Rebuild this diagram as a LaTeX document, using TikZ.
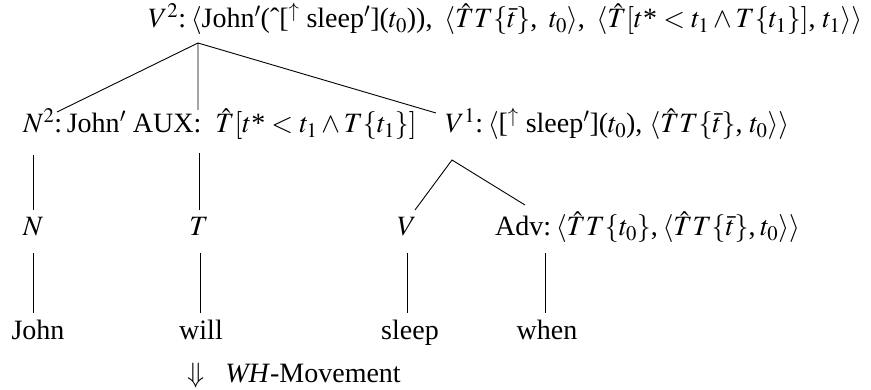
\documentclass[tikz,border=0pt]{standalone}
\usepackage{mathptmx}
\usepackage{fontspec}
\setmainfont{Liberation Serif}
\newcommand{\tst}{t\mbox{*}}
\begin{document}
\begin{tikzpicture}[x=1pt,y=-1pt,
  lab/.style={inner sep=0pt,anchor=base west,font=\fontsize{28}{32}\selectfont},
  labc/.style={inner sep=0pt,anchor=base,font=\fontsize{28}{32}\selectfont},
  branch/.style={line width=0.9pt}]
\useasboundingbox (0,0) rectangle (871,390);
% row 1
\node[lab] (v2) at (148,28) {$V^2$:\,$\langle$John$'$(ˆ[$^{\uparrow}$ sleep$'$]($t_0$)), \,$\langle\hat{T}T\{\bar{t}\}$, \,$t_0\rangle$, \,$\langle\hat{T}[\tst<t_1\wedge T\{t_1\}]$, $t_1\rangle\rangle$};
% row 2
\node[lab] (n2) at (23,133) {$N^2$:\,John$'$ AUX:\ \ $\hat{T}[\tst<t_1\wedge T\{t_1\}]$};
\node[lab] (v1) at (445,133) {$V^1$:\,$\langle$[$^{\uparrow}$ sleep$'$]($t_0$), $\langle\hat{T}T\{\bar{t}\}$, $t_0\rangle\rangle$};
% row 3
\node[labc] (nN) at (33,236) {$N$};
\node[labc] (nT) at (199,236) {$T$};
\node[labc] (nV) at (407,236) {$V$};
\node[lab] (adv) at (495,236) {Adv:\,$\langle\hat{T}T\{t_0\}$,\,$\langle\hat{T}T\{\bar{t}\}$,\,$t_0\rangle\rangle$};
% row 4
\node[labc] (john) at (38,340) {John};
\node[labc] (will) at (201,340) {will};
\node[labc] (sleep) at (410,340) {sleep};
\node[labc] (when) at (547,340) {when};
% bottom
\node[lab] (wh) at (187,382) {$\Downarrow$\ \ \ \textit{WH}-Movement};
% junctions
\coordinate (j0) at (198,43);
\coordinate (j0a) at (57,112);
\coordinate (j0b) at (198,110);
\coordinate (j0c) at (436,113);
\coordinate (nNt) at (33,155); \coordinate (nNb) at (33,210);
\coordinate (nTt) at (199,153); \coordinate (nTb) at (199,210);
\coordinate (j1) at (452,160);
\coordinate (j1a) at (415,210);
\coordinate (j1b) at (525,205);
\coordinate (l1t) at (33,253); \coordinate (l1b) at (33,313);
\coordinate (l2t) at (200,253); \coordinate (l2b) at (200,313);
\coordinate (l3t) at (407,253); \coordinate (l3b) at (407,313);
\coordinate (l4t) at (545,253); \coordinate (l4b) at (545,313);
\draw[branch] (j0a) -- (j0) -- (j0c) (j0) -- (j0b);
\draw[branch] (nNt) -- (nNb) (nTt) -- (nTb);
\draw[branch] (j1a) -- (j1) -- (j1b);
\draw[branch] (l1t) -- (l1b) (l2t) -- (l2b) (l3t) -- (l3b) (l4t) -- (l4b);
\end{tikzpicture}
\end{document}
